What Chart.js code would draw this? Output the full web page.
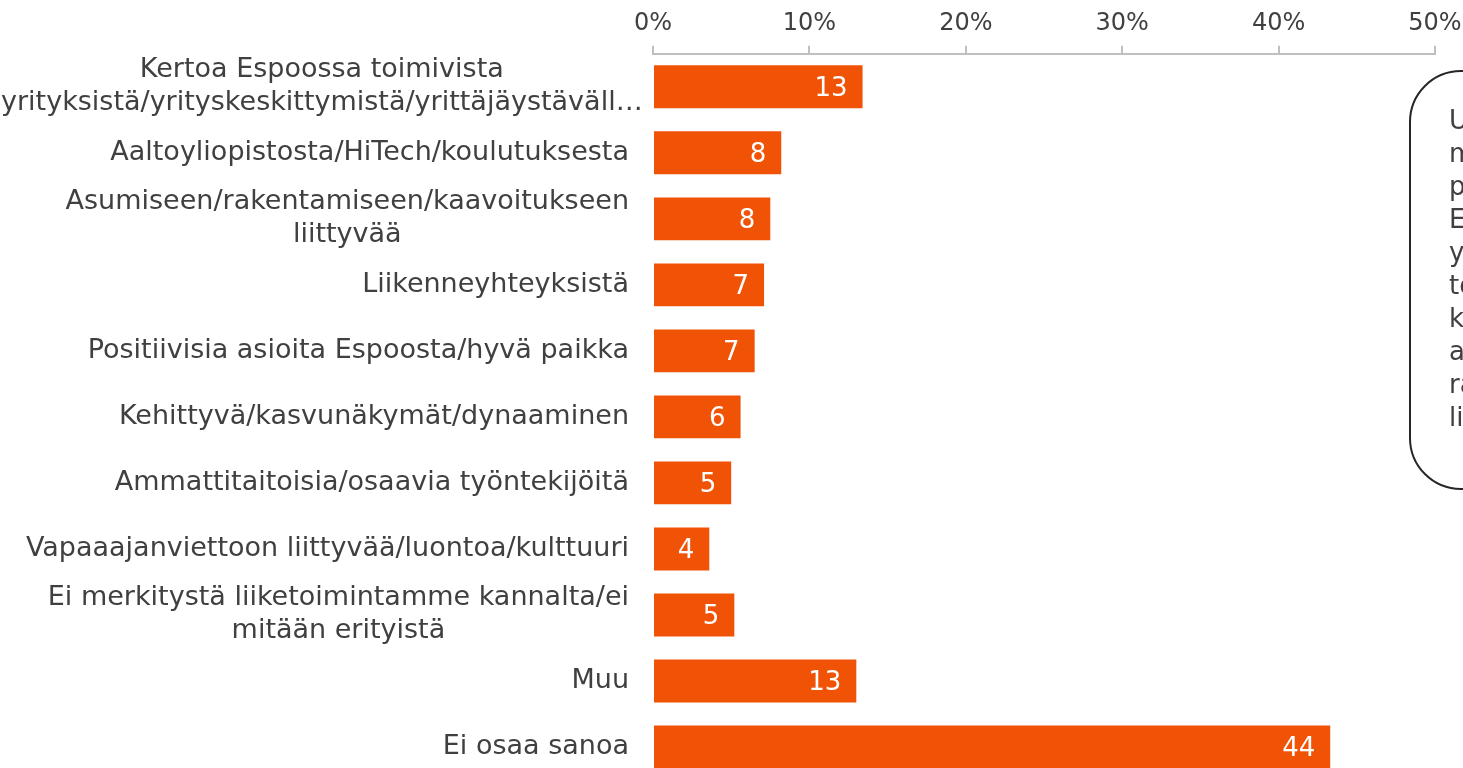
<!DOCTYPE html>
<html>
<head>
<meta charset="utf-8">
<script src="https://cdn.jsdelivr.net/npm/chart.js@4"></script>
<style>
  html, body { margin: 0; padding: 0; background: #fff; overflow: hidden; }
  #wrap { position: relative; width: 1463px; height: 768px; overflow: hidden; }
  #chartBox { position: absolute; left: 0; top: 0; width: 1463px; height: 790px; }
  .note {
    position: absolute; left: 1409px; top: 70px; width: 240px; height: 420px;
    border: 2px solid #262626; border-radius: 52px; box-sizing: border-box;
    padding: 32px 0 0 38px; font-family: "DejaVu Sans", Verdana, sans-serif;
    font-size: 26px; line-height: 33px; color: #404040; white-space: nowrap;
  }
</style>
</head>
<body>
<div id="wrap">
  <div id="chartBox"><canvas id="chartAnswers"></canvas></div>
  <div class="note">Useimmin<br>mainittiin<br>positiivisena<br>Espoosta<br>yrityksiin ja<br>toimintaan,<br>koulutukseen,<br>asumiseen ja<br>rakentamiseen<br>liittyvät asiat</div>
</div>
<script>
const categories = [
  ["Kertoa Espoossa toimivista", "yrityksistä/yrityskeskittymistä/yrittäjäystävällisyydestä"],
  "Aaltoyliopistosta/HiTech/koulutuksesta",
  ["Asumiseen/rakentamiseen/kaavoitukseen", "liittyvää"],
  "Liikenneyhteyksistä",
  "Positiivisia asioita Espoosta/hyvä paikka",
  "Kehittyvä/kasvunäkymät/dynaaminen",
  "Ammattitaitoisia/osaavia työntekijöitä",
  "Vapaaajanviettoon liittyvää/luontoa/kulttuuri",
  ["Ei merkitystä liiketoimintamme kannalta/ei", "mitään erityistä"],
  "Muu",
  "Ei osaa sanoa",
];

// bar lengths (%)
const values = [13.4, 8.2, 7.5, 7.1, 6.5, 5.6, 5.0, 3.6, 5.2, 13.0, 43.3];
// printed labels inside the bars
const valueLabels = ["13", "8", "8", "7", "7", "6", "5", "4", "5", "13", "44"];
const tickValues = [0, 10, 20, 30, 40, 50];

const textColor = "#404040";
const barColor = "#F05206";

// cut a line with "…" so that it fits into maxW
function fitText(c, text, maxW) {
  if (c.measureText(text).width <= maxW) return text;
  let t = text;
  while (t.length > 1 && c.measureText(t + "…").width > maxW) t = t.slice(0, -1);
  return t + "…";
}

// category labels: each block centred on itself, right edge at the axis gap
const categoryLabels = {
  id: "categoryLabels",
  afterDraw(chart) {
    const c = chart.ctx;
    const yScale = chart.scales.y;
    const rightEdge = chart.chartArea.left - 24;
    c.save();
    c.font = "27px 'DejaVu Sans'";
    c.fillStyle = textColor;
    c.textAlign = "center";
    c.textBaseline = "middle";
    categories.forEach((lab, i) => {
      let lines = Array.isArray(lab) ? lab : [lab];
      lines = lines.map((l) => fitText(c, l, chart.chartArea.left - 4));
      const w = Math.max(...lines.map((l) => c.measureText(l).width));
      const cx = Math.max(rightEdge - w / 2, w / 2 + 1);
      const y = yScale.getPixelForValue(i);
      const lh = 33;
      lines.forEach((l, j) => {
        c.fillText(l, cx, y + (j - (lines.length - 1) / 2) * lh);
      });
    });
    c.restore();
  },
};

// value labels at the end of each bar, inside
const barValues = {
  id: "barValues",
  afterDatasetsDraw(chart) {
    const c = chart.ctx;
    const meta = chart.getDatasetMeta(0);
    c.save();
    c.font = "26px 'DejaVu Sans'";
    c.fillStyle = "#fff";
    c.textAlign = "right";
    c.textBaseline = "middle";
    meta.data.forEach((bar, i) => {
      c.fillText(valueLabels[i], bar.x - 15, bar.y + 2);
    });
    c.restore();
  },
};

const ctx = document.getElementById("chartAnswers").getContext("2d");
new Chart(ctx, {
  type: "bar",
  data: {
    labels: categories.map((l) => (Array.isArray(l) ? l.join(" ") : l)),
    datasets: [
      {
        data: values,
        backgroundColor: barColor,
        borderWidth: 0,
        barPercentage: 0.65,
        categoryPercentage: 1,
      },
    ],
  },
  options: {
    indexAxis: "y",
    responsive: true,
    maintainAspectRatio: false,
    animation: false,
    layout: {
      padding: { left: 645, right: 28, top: 1, bottom: 10 },
    },
    plugins: {
      legend: { display: false },
      tooltip: { enabled: false },
    },
    scales: {
      x: {
        position: "top",
        min: 0,
        max: 50,
        afterBuildTicks(scale) {
          scale.ticks = tickValues.map((v) => ({ value: v }));
        },
        // the "50%" label may run to the page edge
        afterFit(scale) {
          scale.paddingRight = 0;
          scale.paddingLeft = 0;
        },
        ticks: {
          callback: (v) => v + "%",
          color: textColor,
          font: { family: "DejaVu Sans", size: 24 },
          padding: 8,
          maxRotation: 0,
        },
        grid: {
          drawOnChartArea: false,
          drawTicks: true,
          tickLength: 8,
          color: "#bfbfbf",
          lineWidth: 2,
        },
        border: { display: true, color: "#bfbfbf", width: 2 },
      },
      y: {
        ticks: { display: false },
        grid: { display: false },
        border: { display: false },
      },
    },
  },
  plugins: [categoryLabels, barValues],
});
</script>
</body>
</html>
